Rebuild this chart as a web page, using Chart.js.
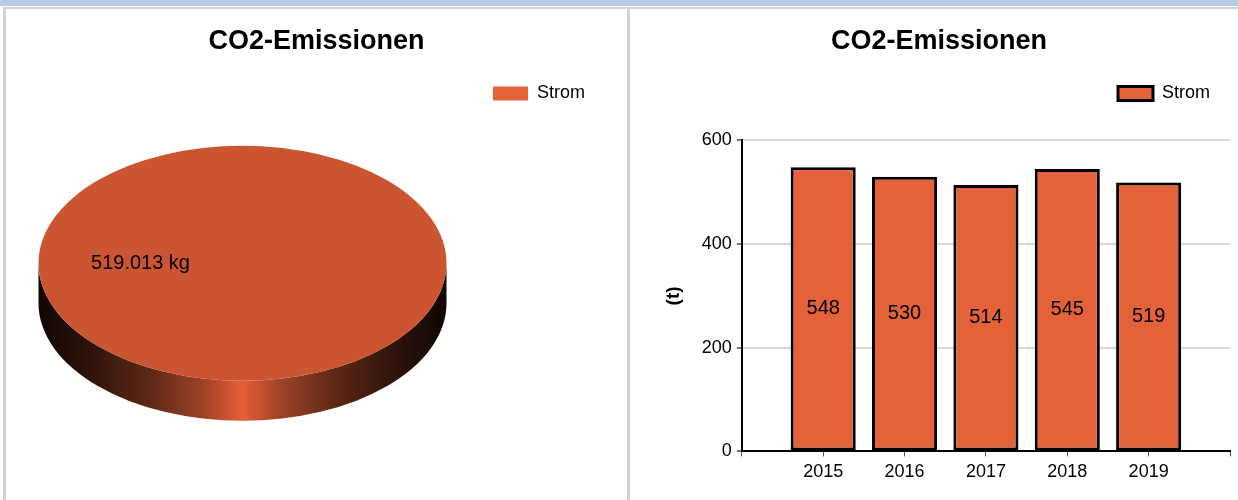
<!DOCTYPE html>
<html>
<head>
<meta charset="utf-8">
<script src="https://cdn.jsdelivr.net/npm/chart.js@4/dist/chart.umd.min.js"></script>
<style>
  html, body { margin: 0; padding: 0; background: #fff; }
  body { width: 1238px; height: 500px; position: relative; overflow: hidden; font-family: 'Liberation Sans', Arial, sans-serif; }
  #band { position: absolute; left: 0; top: 0; width: 1238px; height: 6px; background: #b8cce4; }
  #frame { position: absolute; left: 3px; top: 7px; width: 1235px; height: 493px; border-top: 2px solid #d4d4d4; border-left: 3px solid #d4d4d4; box-sizing: border-box; }
  #divider { position: absolute; left: 627px; top: 9px; width: 3px; height: 491px; background: #d4d4d4; }
  #pieChart { position: absolute; left: 6px; top: 9px; }
  #barChart { position: absolute; left: 630px; top: 9px; }
</style>
</head>
<body>
<div id="band"></div>
<div id="frame"></div>
<div id="divider"></div>
<canvas id="pieChart" width="621" height="491"></canvas>
<canvas id="barChart" width="608" height="491"></canvas>
<script>
// Daten
const seriesName = 'Strom';
const years = [2015, 2016, 2017, 2018, 2019];
const emissionsT = [548, 530, 514, 545, 519];   // Tonnen pro Jahr
const pieValuesKg = [519013];                   // letztes Jahr in kg
const yTicks = [0, 200, 400, 600];

const barColor = '#e4623a';
const pieTopColor = '#cc5531';

Chart.defaults.font.family = "'Liberation Sans', Arial, sans-serif";
Chart.defaults.color = '#000';
Chart.defaults.animation = false;

// 519013 -> "519.013"
function formatDE(v) {
    return String(v).replace(/\B(?=(\d{3})+(?!\d))/g, '.');
}

// zusätzlicher Abstand unter der Legende
const legendGap = {
    id: 'legendGap',
    beforeLayout(chart, args, opts) {
        if (!chart.legend || chart.legend._gapPatched) return;
        const fit = chart.legend.fit;
        chart.legend.fit = function () {
            fit.call(this);
            this.height += opts.gap || 0;
        };
        chart.legend._gapPatched = true;
    }
};

// Werte mittig in die Balken schreiben
const barValues = {
    id: 'barValues',
    afterDatasetsDraw(chart, args, opts) {
        const ctx = chart.ctx;
        const meta = chart.getDatasetMeta(0);
        ctx.save();
        ctx.font = opts.size + 'px ' + Chart.defaults.font.family;
        ctx.fillStyle = '#000';
        ctx.textAlign = 'center';
        ctx.textBaseline = 'middle';
        meta.data.forEach((bar, i) => {
            const v = chart.data.datasets[0].data[i];
            ctx.fillText(String(v), bar.x, (bar.y + bar.base) / 2);
        });
        ctx.restore();
    }
};

// Torte als gekippte 3D-Scheibe zeichnen
const pie3d = {
    id: 'pie3d',
    beforeDatasetsDraw(chart, args, o) {
        const ctx = chart.ctx;
        const arc = chart.getDatasetMeta(0).data[0];
        const r = arc.outerRadius;
        const ex = arc.x + o.dx, ey = arc.y + o.dy;
        const sx = o.rx / r, sy = o.ry / r;
        chart.$pie3d = { ex, ey, sx, sy, x: arc.x, y: arc.y };

        // Seitenwand
        const g = ctx.createLinearGradient(ex - o.rx, 0, ex + o.rx, 0);
        g.addColorStop(0, '#100603');
        g.addColorStop(0.12, '#2c120a');
        g.addColorStop(0.27, '#5c2716');
        g.addColorStop(0.40, '#9c4127');
        g.addColorStop(0.5, '#e55e36');
        g.addColorStop(0.60, '#9c4127');
        g.addColorStop(0.73, '#5c2716');
        g.addColorStop(0.88, '#2c120a');
        g.addColorStop(1, '#100603');
        ctx.save();
        ctx.beginPath();
        ctx.ellipse(ex, ey + o.depth, o.rx, o.ry, 0, 0, Math.PI);
        ctx.lineTo(ex - o.rx, ey);
        ctx.ellipse(ex, ey, o.rx, o.ry, 0, Math.PI, 0, true);
        ctx.closePath();
        ctx.fillStyle = g;
        ctx.fill();
        ctx.restore();

        // Deckfläche: Tortenstück gestaucht
        ctx.save();
        ctx.translate(ex, ey);
        ctx.scale(sx, sy);
        ctx.translate(-arc.x, -arc.y);
    },
    afterDatasetsDraw(chart, args, o) {
        const ctx = chart.ctx;
        ctx.restore();
        const t = chart.$pie3d;
        const meta = chart.getDatasetMeta(0);
        ctx.save();
        ctx.font = o.labelSize + 'px ' + Chart.defaults.font.family;
        ctx.fillStyle = '#000';
        ctx.textAlign = 'center';
        ctx.textBaseline = 'middle';
        meta.data.forEach((arc, i) => {
            const p = arc.getCenterPoint();
            const lx = t.ex + (p.x - t.x) * t.sx;
            const ly = t.ey + (p.y - t.y) * t.sy;
            ctx.fillText(formatDE(chart.data.datasets[0].data[i]) + ' kg', lx, ly);
        });
        ctx.restore();
    }
};

const titleOpts = (bottom) => ({
    display: true,
    text: 'CO2-Emissionen',
    color: '#000',
    font: { size: 27, weight: 'bold' },
    padding: { top: 16, bottom: bottom }
});

// linke Grafik: Torte
new Chart(document.getElementById('pieChart'), {
    type: 'pie',
    data: {
        labels: [seriesName],
        datasets: [{
            data: pieValuesKg,
            backgroundColor: pieTopColor,
            borderWidth: 0
        }]
    },
    options: {
        responsive: false,
        rotation: 90,
        layout: { padding: { left: 32, right: 32, bottom: 86 } },
        plugins: {
            title: titleOpts(17),
            legend: {
                position: 'top',
                align: 'end',
                labels: {
                    boxWidth: 35,
                    boxHeight: 14,
                    padding: 10,
                    color: '#000',
                    font: { size: 18 },
                    generateLabels(chart) {
                        const items = Chart.overrides.doughnut.plugins.legend.labels.generateLabels(chart);
                        items.forEach(it => { it.fillStyle = barColor; it.lineWidth = 0; });
                        return items;
                    }
                }
            },
            tooltip: { enabled: false },
            pie3d: { dx: -74, dy: 0, rx: 204, ry: 117.5, depth: 40, labelSize: 20 }
        }
    },
    plugins: [pie3d]
});

// rechte Grafik: Balken
new Chart(document.getElementById('barChart'), {
    type: 'bar',
    data: {
        labels: years,
        datasets: [{
            label: seriesName,
            data: emissionsT,
            backgroundColor: barColor,
            borderColor: '#000',
            borderWidth: 3,
            borderSkipped: false,
            categoryPercentage: 0.8,
            barPercentage: 1.0
        }]
    },
    options: {
        responsive: false,
        layout: { padding: { left: 18, right: 8, bottom: 12 } },
        plugins: {
            title: titleOpts(7),
            legend: {
                position: 'top',
                align: 'end',
                labels: {
                    boxWidth: 35,
                    boxHeight: 14,
                    padding: 20,
                    color: '#000',
                    font: { size: 18 }
                }
            },
            legendGap: { gap: 28 },
            barValues: { size: 20 },
            tooltip: { enabled: false }
        },
        scales: {
            x: {
                type: 'linear',
                min: years[0] - 1,
                max: years[years.length - 1] + 1,
                offset: false,
                grid: { offset: false, drawOnChartArea: false, tickLength: 5, tickColor: '#555', lineWidth: 1 },
                border: { color: '#000', width: 2 },
                ticks: {
                    stepSize: 1,
                    color: '#000',
                    font: { size: 18 },
                    padding: 5,
                    callback: (v, i, ticks) => (i === 0 || i === ticks.length - 1) ? '' : String(v)
                }
            },
            y: {
                min: yTicks[0],
                max: yTicks[yTicks.length - 1],
                afterBuildTicks: scale => { scale.ticks = yTicks.map(v => ({ value: v })); },
                grid: { color: '#d9d9d9', lineWidth: 2, tickLength: 5, tickColor: '#777' },
                border: { color: '#000', width: 2 },
                ticks: { color: '#000', font: { size: 18 }, padding: 5 },
                title: {
                    display: true,
                    text: '(t)',
                    color: '#000',
                    font: { size: 19, weight: 'bold' },
                    padding: { top: 14, bottom: 12 }
                }
            }
        }
    },
    plugins: [legendGap, barValues]
});
</script>
</body>
</html>
